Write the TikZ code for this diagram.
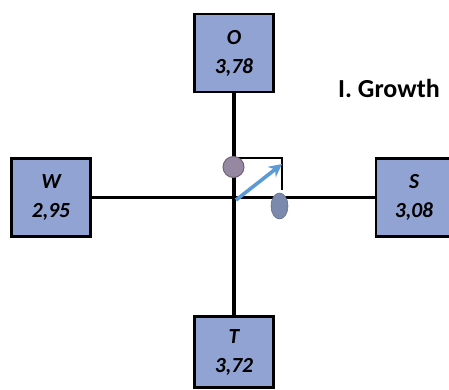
\documentclass[tikz,border=0pt]{standalone}
\usepackage{fontspec}
\setmainfont{Carlito}
\usetikzlibrary{arrows.meta,shapes.geometric}
\definecolor{boxfill}{RGB}{145,163,210}
\definecolor{arrowblue}{RGB}{91,155,213}
\definecolor{dotfill}{RGB}{150,136,160}
\definecolor{dotedge}{RGB}{110,98,120}
\definecolor{ovalfill}{RGB}{122,137,172}
\begin{document}
\begin{tikzpicture}[x=1pt,y=-1pt,
  valbox/.style={draw=black,line width=2.2pt,fill=boxfill,minimum width=79pt,minimum height=78pt,
    align=center,font=\fontsize{21.5}{29}\selectfont\bfseries\itshape,inner sep=0pt},
  axis/.style={line width=3.5pt,black}]
\useasboundingbox (0,0) rectangle (449,390);
\node[valbox] (o) at (234,53) {O\\3,78};
\node[valbox] (w) at (51,197.5) {W\\2,95};
\node[valbox,minimum width=76pt] (s) at (414,197.5) {S\\3,08};
\node[valbox,minimum height=71pt] (t) at (234,352) {T\\3,72};
\coordinate (c) at (236,200);
\draw[axis] (o.south) -- (t.north);
\draw[axis] (w.east) -- (s.west);
\node[font=\fontsize{26}{30}\selectfont\bfseries] (title) at (389,88) {I. Growth};
% right-angle marker and direction arrow
\coordinate (corner) at (282,158);
\draw[line width=1.6pt] (236,158) -- (corner) -- (282,190);
\draw[arrowblue,line width=3.6pt,-{Stealth[length=13pt,width=13pt]}] (c) -- (282,164);
\node[circle,draw=dotedge,line width=1pt,fill=dotfill,minimum size=21pt,inner sep=0pt] (dot) at (233.5,167) {};
\node[ellipse,draw=ovalfill!80!black,line width=0.6pt,fill=ovalfill,minimum width=17pt,minimum height=26pt,inner sep=0pt] (oval) at (279.5,206) {};
\end{tikzpicture}
\end{document}
